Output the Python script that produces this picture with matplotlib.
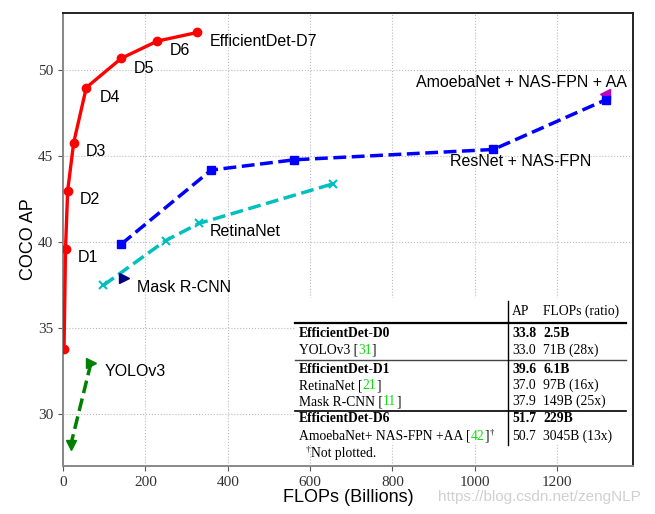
import matplotlib.pyplot as plt
from matplotlib.lines import Line2D

# EfficientDet D0..D7
eff_flops = [2.5, 6.1, 11.3, 26, 56.6, 141.7, 229, 326]
eff_ap = [33.8, 39.6, 43.0, 45.8, 49.0, 50.7, 51.7, 52.2]
eff_names = ["", "D1", "D2", "D3", "D4", "D5", "D6", "EfficientDet-D7"]

# ResNet + NAS-FPN
nas_flops = [141.7, 359.5, 561.8, 1045, 1319]
nas_ap = [39.9, 44.2, 44.8, 45.4, 48.3]

# RetinaNet
retina_flops = [98, 249, 330, 655]
retina_ap = [37.5, 40.1, 41.1, 43.4]

# single points
mask_flops = [149]
mask_ap = [37.9]
amoeba_flops = [1317]
amoeba_ap = [48.6]
yolo_flops = [68, 18.6]
yolo_ap = [33.0, 28.2]

# table contents: (name, ref, ap, flops, bold)
table_rows = [
    ("EfficientDet-D0", "", "33.8", "2.5B", True),
    ("YOLOv3 [", "31", "33.0", "71B (28x)", False),
    ("EfficientDet-D1", "", "39.6", "6.1B", True),
    ("RetinaNet [", "21", "37.0", "97B (16x)", False),
    ("Mask R-CNN [", "11", "37.9", "149B (25x)", False),
    ("EfficientDet-D6", "", "51.7", "229B", True),
    ("AmoebaNet+ NAS-FPN +AA [", "42", "50.7", "3045B (13x)", False),
]

plt.rcParams['font.family'] = ['Liberation Sans', 'DejaVu Sans']

fig = plt.figure(figsize=(6.55, 5.14), dpi=100)
ax = fig.add_axes([63 / 655, 1 - 466 / 514, 570 / 655, 453.3 / 514])

ax.plot(eff_flops, eff_ap, 'r-o', lw=2.4, ms=6, zorder=3)
ax.plot(nas_flops, nas_ap, 'bs--', lw=2.5, ms=6, zorder=3)
ax.plot(retina_flops, retina_ap, 'cx--', lw=2.5, ms=6, mew=1.5, zorder=3)
ax.plot(mask_flops, mask_ap, '>', color='navy', ms=7, zorder=3)
ax.plot(amoeba_flops, amoeba_ap, 'm<', ms=7, zorder=2.5)
ax.plot(yolo_flops, yolo_ap, 'g--', lw=2.5, zorder=3)
ax.plot(yolo_flops[:1], yolo_ap[:1], 'g>', ms=7, zorder=3)
ax.plot(yolo_flops[1:], yolo_ap[1:], 'gv', ms=7, zorder=3)

# point labels
fs = 11.5
eff_label_pos = [None, (36, 39.1), (41, 42.5), (56, 45.3), (90, 48.44),
                 (172, 50.13), (260, 51.18), (357, 51.7)]
for name, pos in zip(eff_names, eff_label_pos):
    if name:
        ax.text(pos[0], pos[1], name, fontsize=fs, va='center')
ax.text(357, 40.65, "RetinaNet", fontsize=fs, va='center')
ax.text(180, 37.4, "Mask R-CNN", fontsize=fs, va='center')
ax.text(102, 32.5, "YOLOv3", fontsize=fs, va='center')
ax.text(940, 44.7, "ResNet + NAS-FPN", fontsize=fs, va='center')
ax.text(857, 49.28, "AmoebaNet + NAS-FPN + AA", fontsize=fs, va='center')

ax.set_xlim(0, 1384)
ax.set_ylim(27, 53.35)
ax.set_xticks([0, 200, 400, 600, 800, 1000, 1200])
ax.set_yticks([30, 35, 40, 45, 50])
ax.grid(True, ls=':', color='#bbbbbb', lw=0.8, zorder=0)
ax.tick_params(labelsize=11, labelfontfamily='Liberation Serif',
               labelcolor='#333333', length=3.5, color='#555555')
ax.set_xlabel("FLOPs (Billions)", fontsize=13, labelpad=0)
ax.set_ylabel("COCO AP", fontsize=13, labelpad=1)
for side in ['left', 'bottom']:
    ax.spines[side].set_color('#888888')
    ax.spines[side].set_linewidth(1.4)
for side in ['top', 'right']:
    ax.spines[side].set_color('#222222')
    ax.spines[side].set_linewidth(1.4)


# ---- inset table (pixel positions -> axes fraction)
def ap(px, py):
    return (px - 63) / 570, (466 - py) / 453.3


renderer = fig.canvas.get_renderer()


def right_edge(t):
    bb = t.get_window_extent(renderer=renderer)
    return ax.transAxes.inverted().transform((bb.x1, bb.y0))[0]


tfont = 'Liberation Serif'
tfs = 9.8
green = '#11dd11'
x0, y0 = ap(295, 298)
x1, y1 = ap(630, 445)
ax.add_patch(plt.Rectangle((x0, y1), x1 - x0, y0 - y1, transform=ax.transAxes,
                           facecolor='white', edgecolor='none', zorder=5))

for py, lw, col in [(323, 1.6, 'black'), (360, 1.0, '#444444'), (410.7, 1.2, 'black')]:
    xa, ya = ap(295, py)
    xb, _ = ap(626, py)
    ax.add_line(Line2D([xa, xb], [ya, ya], transform=ax.transAxes, lw=lw,
                       color=col, zorder=6))
xv, yv0 = ap(507.5, 301)
_, yv1 = ap(507.5, 445)
ax.add_line(Line2D([xv, xv], [yv0, yv1], transform=ax.transAxes, lw=1.0,
                   color='black', zorder=6))

tx = dict(transform=ax.transAxes, fontsize=tfs, family=tfont, va='baseline', zorder=7)
base = 4  # baseline offset below row centre, px
ax.text(*ap(512, 311 + base), "AP", **tx)
ax.text(*ap(543, 311 + base), "FLOPs (ratio)", **tx)

row_y = [333, 350, 369, 385, 401, 418, 436]
for (name, ref, apv, flops, bold), py in zip(table_rows, row_y):
    w = 'bold' if bold else 'normal'
    bx, by = ap(299, py + base)
    t = ax.text(bx, by, name, fontweight=w, **tx)
    if ref:
        t2 = ax.text(right_edge(t), by, ref, color=green, **tx)
        t3 = ax.text(right_edge(t2), by, "]", **tx)
        if name.startswith("Amoeba"):
            ax.text(right_edge(t3) + 0.002, by + 0.012, "\u2020",
                    transform=ax.transAxes, fontsize=6.5, family=tfont,
                    va='baseline', zorder=7)
    ax.text(*ap(512, py + base), apv, fontweight=w, **tx)
    ax.text(*ap(543, py + base), flops, fontweight=w, **tx)

fx, fy = ap(306, 453 + base)
ax.text(fx, fy + 0.012, "\u2020", fontsize=6.5, family=tfont, va='baseline',
        transform=ax.transAxes, zorder=7)
ax.text(*ap(311, 453 + base), "Not plotted.", **tx)

fig.text(438 / 655, 1 - 497 / 514, "https://blog.csdn.net/zengNLP", fontsize=11,
         color='#d0d0d0', va='center')

fig.savefig("out.png", dpi=100)
